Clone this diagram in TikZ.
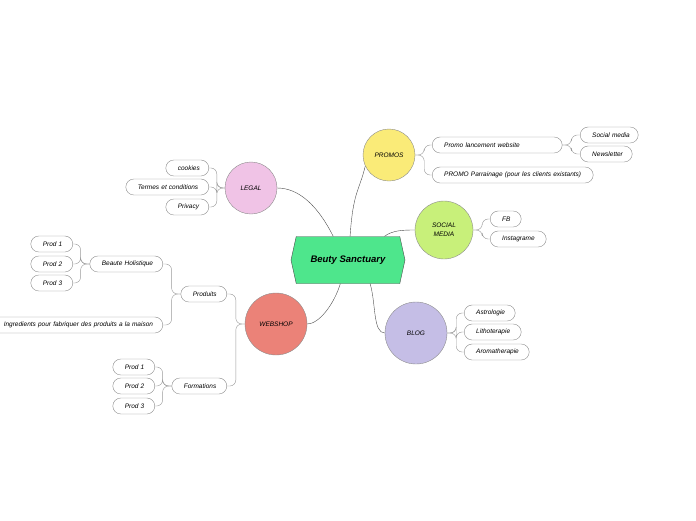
\documentclass[tikz,border=0pt]{standalone}
\usepackage{fontspec}
\setmainfont{Liberation Sans}
\usetikzlibrary{shapes.symbols}
\definecolor{rootgreen}{HTML}{4EE68C}
\definecolor{promoyellow}{HTML}{FAEB78}
\definecolor{socialgreen}{HTML}{C8F07A}
\definecolor{bloglilac}{HTML}{C5BEE6}
\definecolor{legalpink}{HTML}{F0C3E6}
\definecolor{shopred}{HTML}{EB8278}
\tikzset{
  rootbox/.style={
    shape = signal,
    signal to = east and west,
    signal pointer angle = 155,
    draw = black!70,
    fill = rootgreen,
    minimum width = 114,
    minimum height = 47,
    inner sep = 0pt,
    font = \fontsize{9.5}{11}\selectfont\bfseries\itshape
  },
  topic/.style={
    shape = circle,
    draw = black!45,
    inner sep = 0pt,
    align = center,
    font = \fontsize{6.5}{9}\selectfont\itshape
  },
  leaf/.style={
    draw = black!45,
    fill = white,
    rounded corners = 8pt,
    minimum height = 16,
    text width = #1,
    align = left,
    inner xsep = 12pt,
    inner ysep = 0pt,
    font = \fontsize{6.5}{7}\selectfont\itshape
  },
  link/.style={
    draw = black!70,
    thin
  },
  branch/.style={
    draw = black!40,
    thin,
    rounded corners = 6pt
  }
}
\begin{document}
\begin{tikzpicture}[x=1pt,y=-1pt]
    \useasboundingbox (0,0) rectangle (696,520);
    % centre and main topics
    \node[rootbox] (root) at (348,260) {Beuty Sanctuary};
    \node[topic, fill=promoyellow, minimum size=52] (promos) at (389,155) {PROMOS};
    \node[topic, fill=socialgreen, minimum size=58] (social) at (444,230) {SOCIAL\\MEDIA};
    \node[topic, fill=bloglilac, minimum size=62] (blog) at (416,333) {BLOG};
    \node[topic, fill=legalpink, minimum size=52] (legal) at (251,188) {LEGAL};
    \node[topic, fill=shopred, minimum size=62] (webshop) at (276,324) {WEBSHOP};
    \draw[link] (root.85) .. controls +(3,-45) and +(-6,25) .. (promos.205);
    \draw[link] (root.33) .. controls +(8,-6) and +(-12,0) .. (social.west);
    \draw[link] (root.-47) .. controls +(6,20) and +(-12,0) .. (blog.west);
    \draw[link] (root.122) .. controls +(-15,-30) and +(22,0) .. (legal.east);
    \draw[link] (root.-108) .. controls +(-6,20) and +(12,0) .. (webshop.east);
    % PROMOS
    \node[leaf=106pt, anchor=west] (promoweb) at (432,145) {Promo lancement website};
    \node[leaf=137pt, anchor=west] (parrain) at (432,175) {\mbox{PROMO Parrainage (pour les clients existants)}};
    \node[leaf=34pt, anchor=west] (socmedia) at (580,135) {\mbox{Social media}};
    \node[leaf=28pt, anchor=west] (newsletter) at (580,154) {Newsletter};
    \foreach \n in {promoweb,parrain}
      \draw[branch] (promos.east) -- ++(9,0) |- (\n.west);
    \foreach \n in {socmedia,newsletter}
      \draw[branch] (promoweb.east) -- ++(9,0) |- (\n.west);
    % SOCIAL MEDIA
    \node[leaf=7pt, anchor=west] (fb) at (490,219) {FB};
    \node[leaf=32pt, anchor=west] (insta) at (490,239) {Instagrame};
    \foreach \n in {fb,insta}
      \draw[branch] (social.east) -- ++(9,0) |- (\n.west);
    % BLOG
    \node[leaf=27pt, anchor=west] (astro) at (464,313) {Astrologie};
    \node[leaf=33pt, anchor=west] (litho) at (464,332) {Lithoterapie};
    \node[leaf=41pt, anchor=west] (aroma) at (464,352) {Aromatherapie};
    \foreach \n in {astro,litho,aroma}
      \draw[branch] (blog.east) -- ++(9,0) |- (\n.west);
    % LEGAL
    \node[leaf=19pt, anchor=east] (cookies) at (209,168) {cookies};
    \node[leaf=59pt, anchor=east] (termes) at (209,187) {\mbox{Termes et conditions}};
    \node[leaf=19pt, anchor=east] (privacy) at (209,207) {Privacy};
    \foreach \n in {cookies,termes,privacy}
      \draw[branch] (legal.west) -- ++(-8,0) |- (\n.east);
    % WEBSHOP
    \node[leaf=22pt, anchor=east] (produits) at (227,294) {Produits};
    \node[leaf=31pt, anchor=east] (formations) at (227,386) {Formations};
    \foreach \n in {produits,formations}
      \draw[branch] (webshop.west) -- ++(-9,0) |- (\n.east);
    \node[leaf=49pt, anchor=east] (beaute) at (163,264) {\mbox{Beaute Holistique}};
    \node[leaf=147pt, anchor=east] (ingred) at (163,325) {\mbox{Ingredients pour fabriquer des produits a la maison}};
    \foreach \n in {beaute,ingred}
      \draw[branch] (produits.west) -- ++(-9,0) |- (\n.east);
    \foreach \i/\y in {1/244,2/264,3/283}{
      \node[leaf=18pt, anchor=east] (prodB\i) at (73,\y) {\mbox{Prod \i}};
      \draw[branch] (beaute.west) -- ++(-9,0) |- (prodB\i.east);}
    \foreach \i/\y in {1/367,2/386,3/406}{
      \node[leaf=18pt, anchor=east] (prodF\i) at (155,\y) {\mbox{Prod \i}};
      \draw[branch] (formations.west) -- ++(-9,0) |- (prodF\i.east);}
\end{tikzpicture}
\end{document}
